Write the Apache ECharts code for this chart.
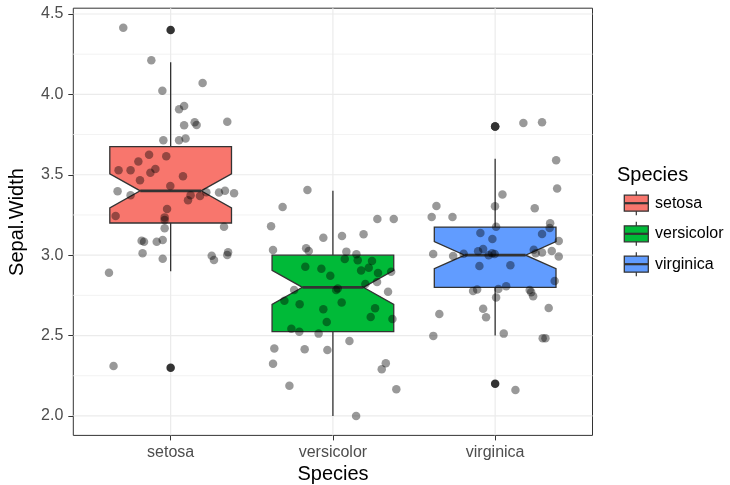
<!DOCTYPE html>
<html>
<head>
<meta charset="utf-8">
<script src="https://cdn.jsdelivr.net/npm/echarts@6/dist/echarts.min.js"></script>
<style>html,body{margin:0;padding:0;background:#fff}#c{width:730px;height:485px}</style>
</head>
<body>
<div id="c"></div>
<script>
const categories = ['setosa', 'versicolor', 'virginica'];
const boxColors = ['#F8766D', '#00BA38', '#619CFF'];
// box statistics
const whiskerLow  = [2.9, 2.0, 2.5];
const q1          = [3.2, 2.525, 2.8];
const median      = [3.4, 2.8, 3.0];
const q3          = [3.675, 3.0, 3.175];
const whiskerHigh = [4.2, 3.4, 3.6];
const notchLow    = [3.294, 2.694, 2.916];
const notchHigh   = [3.506, 2.906, 3.084];
// outliers [category position, value]
const outliers = [[1, 4.4], [1, 2.3], [3, 3.8], [3, 3.8], [3, 2.2]];
// jittered points
const setosaX = [0.708,0.881,1.197,0.949,1.052,1.083,1.148,1.160,1.083,1.349,0.955,1.052,1.092,0.867,0.973,0.801,0.679,0.753,0.906,0.875,1.076,0.811,0.998,0.673,0.753,1.220,1.123,1.107,1.181,1.298,1.335,1.391,0.978,0.661,0.963,0.963,0.963,1.329,0.821,0.836,0.914,0.951,0.827,0.951,1.253,1.267,1.354,1.349,0.620,0.648];
const setosaY = [4.415,4.212,4.071,4.023,3.907,3.928,3.826,3.810,3.808,3.830,3.715,3.715,3.725,3.625,3.615,3.582,3.528,3.528,3.536,3.513,3.491,3.466,3.430,3.397,3.372,3.391,3.372,3.341,3.368,3.389,3.401,3.385,3.287,3.244,3.235,3.219,3.167,3.177,3.090,3.084,3.084,3.095,3.012,2.978,2.997,2.970,3.018,3.001,2.891,2.311];
const versicolorX = [1.843,1.690,1.619,2.274,2.375,1.941,2.056,2.189,1.631,1.835,1.851,2.083,2.145,2.073,2.153,2.241,1.830,1.929,2.221,2.174,1.984,2.278,2.359,2.272,1.761,2.020,2.030,2.200,2.340,1.701,1.795,2.054,2.260,1.941,2.233,2.367,1.962,1.744,1.793,1.912,2.102,1.639,1.826,1.966,1.631,2.326,2.301,1.732,2.391,2.143];
const versicolorY = [3.405,3.300,3.180,3.225,3.225,3.109,3.119,3.130,3.032,3.043,3.026,3.022,3.006,2.976,2.968,2.964,2.928,2.916,2.922,2.904,2.872,2.889,2.897,2.833,2.784,2.784,2.792,2.821,2.773,2.717,2.695,2.705,2.670,2.664,2.616,2.603,2.585,2.543,2.524,2.512,2.466,2.419,2.415,2.410,2.325,2.327,2.290,2.188,2.166,2.000];
const virginicaX = [3.174,3.289,3.376,3.382,3.045,2.638,2.999,3.244,2.609,2.737,3.006,3.339,3.336,2.909,3.289,2.983,3.392,2.926,2.895,3.238,2.618,2.741,2.806,2.981,2.997,3.250,3.289,3.349,3.392,2.903,3.094,3.367,3.068,2.864,2.889,3.213,3.222,3.234,3.006,3.330,2.926,2.944,2.656,2.619,3.053,3.293,3.310,3.125,2.960,3.020];
const virginicaY = [3.822,3.826,3.590,3.414,3.378,3.306,3.304,3.292,3.238,3.238,3.177,3.198,3.169,3.138,3.132,3.101,3.088,3.039,3.024,3.034,3.007,2.995,3.009,3.012,3.007,3.012,3.016,3.026,2.991,2.933,2.937,2.840,2.807,2.777,2.786,2.784,2.769,2.744,2.736,2.672,2.667,2.614,2.634,2.498,2.512,2.483,2.483,2.162,3.000,2.790];
// axis ticks
const yTicks = [2.0, 2.5, 3.0, 3.5, 4.0, 4.5];
const yMinor = [2.25, 2.75, 3.25, 3.75, 4.25];
const xTicks = [1, 2, 3];

const FONT = '"Liberation Sans", Arial, Helvetica, sans-serif';
const X_MIN = 0.4, X_MAX = 3.6, Y_MIN = 1.879, Y_MAX = 4.536;
const BOX_HALF = 0.375, NOTCH_HALF = 0.1875;

function zip(xs, ys) { return xs.map((x, i) => [x, ys[i]]); }

const chart = echarts.init(document.getElementById('c'), null, {renderer: 'canvas'});

const hGrid = yTicks.map(v => [v, 1]).concat(yMinor.map(v => [v, 0]));

const option = {
  animation: false,
  backgroundColor: '#ffffff',
  grid: {left: 73.3, right: 137.5, top: 8.2, bottom: 49.6, show: true, borderColor: '#333333', borderWidth: 1, backgroundColor: 'transparent'},
  xAxis: {
    type: 'value', min: X_MIN, max: X_MAX,
    axisLine: {show: false},
    axisTick: {show: true, length: 5, customValues: xTicks, lineStyle: {color: '#333333', width: 1}},
    axisLabel: {customValues: xTicks, formatter: v => categories[Math.round(v) - 1], color: '#4D4D4D', fontSize: 16, fontFamily: FONT, margin: 9},
    splitLine: {show: false}
  },
  yAxis: {
    type: 'value', min: Y_MIN, max: Y_MAX,
    axisLine: {show: false},
    axisTick: {show: true, length: 5, customValues: yTicks, lineStyle: {color: '#333333', width: 1}},
    axisLabel: {customValues: yTicks, formatter: v => v.toFixed(1), color: '#4D4D4D', fontSize: 16, fontFamily: FONT, margin: 10},
    splitLine: {show: false}
  },
  series: [
    {
      type: 'custom', z: 0, silent: true,
      data: hGrid,
      renderItem: (params, api) => {
        const a = api.coord([X_MIN, api.value(0)]);
        const b = api.coord([X_MAX, api.value(0)]);
        const major = api.value(1) === 1;
        return {type: 'line', shape: {x1: a[0], y1: a[1], x2: b[0], y2: b[1]},
          style: {stroke: major ? '#EBEBEB' : '#F3F3F3', lineWidth: major ? 1.2 : 1}};
      }
    },
    {
      type: 'custom', z: 0, silent: true,
      data: xTicks.map(v => [v]),
      renderItem: (params, api) => {
        const a = api.coord([api.value(0), Y_MIN]);
        const b = api.coord([api.value(0), Y_MAX]);
        return {type: 'line', shape: {x1: a[0], y1: a[1], x2: b[0], y2: b[1]},
          style: {stroke: '#EBEBEB', lineWidth: 1.2}};
      }
    },
    {
      type: 'custom', z: 2, silent: true,
      data: categories.map((c, i) => [i + 1, whiskerLow[i], q1[i], median[i], q3[i], whiskerHigh[i], notchLow[i], notchHigh[i]]),
      renderItem: (params, api) => {
        const x = api.value(0);
        const wl = api.value(1), a1 = api.value(2), md = api.value(3), a3 = api.value(4), wh = api.value(5), nl = api.value(6), nh = api.value(7);
        const P = (xx, yy) => api.coord([xx, yy]);
        const pts = [
          P(x - BOX_HALF, a3), P(x + BOX_HALF, a3), P(x + BOX_HALF, nh), P(x + NOTCH_HALF, md),
          P(x + BOX_HALF, nl), P(x + BOX_HALF, a1), P(x - BOX_HALF, a1), P(x - BOX_HALF, nl),
          P(x - NOTCH_HALF, md), P(x - BOX_HALF, nh)
        ];
        const top = P(x, wh), q3p = P(x, a3), q1p = P(x, a1), bot = P(x, wl);
        const ml = P(x - NOTCH_HALF, md), mr = P(x + NOTCH_HALF, md);
        const stroke = '#333333';
        return {type: 'group', children: [
          {type: 'line', shape: {x1: top[0], y1: top[1], x2: q3p[0], y2: q3p[1]}, style: {stroke, lineWidth: 1.3}},
          {type: 'line', shape: {x1: q1p[0], y1: q1p[1], x2: bot[0], y2: bot[1]}, style: {stroke, lineWidth: 1.3}},
          {type: 'polygon', shape: {points: pts}, style: {fill: boxColors[params.dataIndex], stroke, lineWidth: 1.3, lineJoin: 'miter'}},
          {type: 'line', shape: {x1: ml[0], y1: ml[1], x2: mr[0], y2: mr[1]}, style: {stroke, lineWidth: 2.8}}
        ]};
      }
    },
    {type: 'scatter', z: 3, silent: true, data: outliers, symbolSize: 8.5, itemStyle: {color: '#333333', opacity: 1}},
    {type: 'scatter', z: 4, silent: true, data: zip(setosaX, setosaY), symbolSize: 8.5, itemStyle: {color: 'rgba(0,0,0,0.5)'}},
    {type: 'scatter', z: 4, silent: true, data: zip(versicolorX, versicolorY), symbolSize: 8.5, itemStyle: {color: 'rgba(0,0,0,0.5)'}},
    {type: 'scatter', z: 4, silent: true, data: zip(virginicaX, virginicaY), symbolSize: 8.5, itemStyle: {color: 'rgba(0,0,0,0.5)'}}
  ],
  graphic: []
};

// axis titles
option.graphic.push({type: 'text', style: {text: 'Species', font: '20px ' + FONT, fill: '#000', textAlign: 'center', textVerticalAlign: 'middle'}, x: 333, y: 474});
option.graphic.push({type: 'text', style: {text: 'Sepal.Width', font: '20px ' + FONT, fill: '#000', textAlign: 'center', textVerticalAlign: 'middle'}, x: 17, y: 222, rotation: Math.PI / 2});
// legend
option.graphic.push({type: 'text', style: {text: 'Species', font: '20px ' + FONT, fill: '#000', textAlign: 'left', textVerticalAlign: 'middle'}, x: 617, y: 175});
const keyY = [203.2, 233.8, 264.2];
categories.forEach((c, i) => {
  const cy = keyY[i];
  option.graphic.push({type: 'line', shape: {x1: 636.3, y1: cy - 12, x2: 636.3, y2: cy + 12}, style: {stroke: '#333', lineWidth: 1.2}});
  option.graphic.push({type: 'rect', shape: {x: 624.3, y: cy - 8, width: 24, height: 16}, style: {fill: boxColors[i], stroke: '#333', lineWidth: 1.3}});
  option.graphic.push({type: 'line', shape: {x1: 624.3, y1: cy, x2: 648.3, y2: cy}, style: {stroke: '#333', lineWidth: 2.2}});
  option.graphic.push({type: 'text', style: {text: c, font: '16px ' + FONT, fill: '#000', textAlign: 'left', textVerticalAlign: 'middle'}, x: 655, y: cy});
});

chart.setOption(option);
</script>
</body>
</html>
